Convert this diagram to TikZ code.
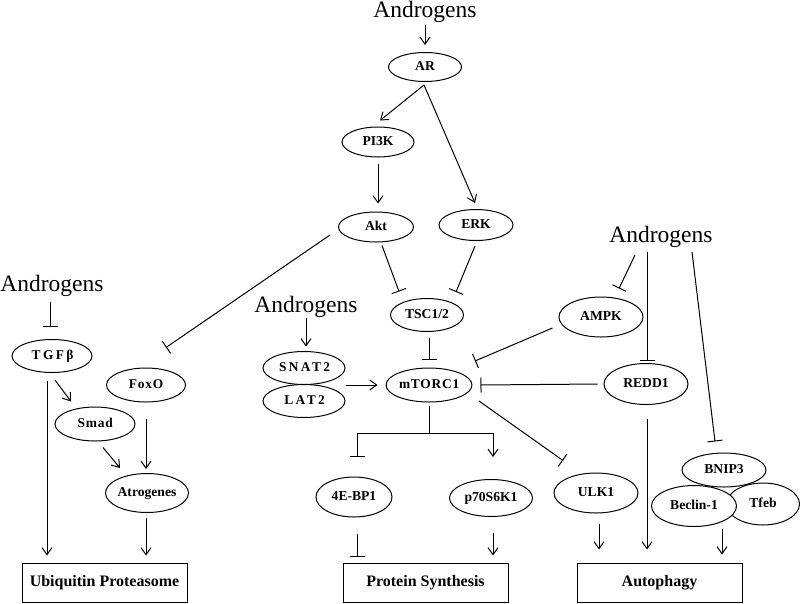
\documentclass[tikz,border=0pt]{standalone}
\usepackage{fontspec}
\setmainfont{Liberation Serif}
\newfontfamily\spA[LetterSpace=18]{Liberation Serif}
\newfontfamily\spB[LetterSpace=6]{Liberation Serif}
\usetikzlibrary{arrows.meta,shapes.geometric,calc}
\tikzset{
  ell/.style={ellipse, draw, line width=1pt, fill=white, inner sep=0pt,
    text height=9.5pt, text depth=2.5pt,
    font=\fontsize{13.6}{15}\selectfont\bfseries},
  ellA/.style={ell, font=\spA\fontsize{13.4}{15}\selectfont\bfseries},
  ellB/.style={ell, font=\spB\fontsize{13.4}{15}\selectfont\bfseries},
  andro/.style={font=\fontsize{23.5}{26}\selectfont, inner sep=0pt, anchor=base},
  outbox/.style={draw, line width=1pt, minimum width=165pt, minimum height=39pt,
    inner sep=0pt, font=\fontsize{16}{18}\selectfont\bfseries},
  link/.style={line width=1pt},
  act/.style={link, -{Straight Barb[length=7pt,width=10pt]}},
  inh/.style={link, -{Bar[width=15pt]}},
}
\begin{document}
\begin{tikzpicture}[x=1pt,y=-1pt]
\useasboundingbox (0,0) rectangle (800,603);
% text nodes
\node[andro] (A1) at (425,17) {Androgens};
\node[andro] (A2) at (306,312) {Androgens};
\node[andro] (A3) at (661,242) {Androgens};
\node[andro] (A4) at (52,291) {Androgens};
% ellipses
\node[ell, minimum width=73pt, minimum height=29pt] (AR) at (425,67) {AR};
\node[ell, minimum width=72pt, minimum height=30pt] (PI3K) at (378,142) {PI3K};
\node[ell, minimum width=75pt, minimum height=30pt] (Akt) at (376,227) {Akt};
\node[ell, minimum width=74pt, minimum height=31pt] (ERK) at (476,225) {ERK};
\node[ell, minimum width=73pt, minimum height=33pt] (TSC) at (427,315) {TSC1/2};
\node[ellB, minimum width=82pt, minimum height=34pt] (mTORC) at (429,385) {\hspace*{0.4pt}mTORC1};
\node[ellA, minimum width=82pt, minimum height=33pt] (SNAT) at (304,368) {\hspace*{1.2pt}SNAT2};
\node[ellA, minimum width=82pt, minimum height=33pt] (LAT) at (304,401) {\hspace*{1.2pt}LAT2};
\node[ell, minimum width=84pt, minimum height=40pt] (AMPK) at (601,317) {AMPK};
\node[ell, minimum width=84pt, minimum height=41pt] (REDD) at (646,384) {REDD1};
\node[ellA, minimum width=80pt, minimum height=33pt] (TGF) at (52,356) {\hspace*{1.2pt}TGFβ};
\node[ellB, minimum width=80pt, minimum height=34pt] (Smad) at (95,424) {\hspace*{0.4pt}Smad};
\node[ellB, minimum width=79pt, minimum height=34pt] (FoxO) at (146,385) {\hspace*{0.4pt}FoxO};
\node[ell, minimum width=83pt, minimum height=39pt] (Atro) at (147,493) {Atrogenes};
\node[ell, minimum width=76pt, minimum height=40pt] (EBP) at (354,497) {4E-BP1};
\node[ell, minimum width=83pt, minimum height=37pt] (p70) at (491,498) {p70S6K1};
\node[ell, minimum width=84pt, minimum height=40pt] (ULK) at (596,493) {ULK1};
\node[ell, minimum width=84pt, minimum height=34pt] (BNIP) at (724,470) {BNIP3};
\node[ell, minimum width=73pt, minimum height=42pt] (Tfeb) at (763,504) {Tfeb};
\node[ell, minimum width=85pt, minimum height=41pt] (Becl) at (694,506) {Beclin-1};
% boxes
\node[outbox] (Ubi) at (104.5,582.5) {Ubiquitin Proteasome};
\node[outbox] (PS) at (425.5,582.5) {Protein Synthesis};
\node[outbox] (Auto) at (659.5,582.5) {Autophagy};
% connectors
\draw[act] ($(A1.base)+(0,8)$) -- ($(AR.north)+(0,-7)$);
\draw[act] ($(AR.south)+(-1,3)$) -- ($(PI3K.north)+(2,-6)$);
\draw[act] ($(AR.south)+(-1,3)$) -- ($(ERK.north)+(-1,-6)$);
\draw[act] ($(PI3K.south)+(0,6)$) -- ($(Akt.north)+(2,-8)$);
\draw[inh] ($(Akt.south)+(6,3)$) -- ($(TSC.north)+(-28,-6.5)$);
\draw[inh] ($(ERK.south)+(-1,5)$) -- ($(TSC.north)+(29,-6)$);
\draw[inh] ($(Akt.west)+(-8,8)$) -- ($(FoxO.north)+(20,-20)$);
\draw[inh] ($(TSC.south)+(2,5.5)$) -- ($(mTORC.north)+(0,-8)$);
\draw[act] ($(A2.base)+(0,6)$) -- ($(SNAT.north)+(2,-4.5)$);
\draw[act] (SNAT.south -| SNAT.east) -- ($(mTORC.west)+(-8,0)$);
\draw[inh] ($(AMPK.west)+(-6,11)$) -- ($(mTORC.center)+(46,-24)$);
\draw[inh] ($(REDD.west)+(-6,0)$) -- ($(mTORC.east)+(8,0)$);
\draw[inh] ($(A3.base)+(-26,13)$) -- ($(AMPK.north)+(18,-8)$);
\draw[inh] ($(A3.base)+(-14,10)$) -- ($(REDD.north)+(1,-2)$);
\draw[inh] ($(A3.base)+(31,10)$) -- ($(BNIP.north)+(-9,-11)$);
\coordinate (br) at ($(mTORC.south)+(0,31)$);
\draw[link] ($(mTORC.south)+(0,3)$) -- (br);
\draw[inh] (br) -| ($(EBP.north)+(3,-20)$);
\draw[act] (br) -| ($(p70.north)+(2,-22)$);
\draw[inh] ($(mTORC.center)+(50,16)$) -- ($(ULK.north)+(-33,-12)$);
\draw[act] ($(TGF.south)+(3,7)$) -- ($(Smad.north)+(-24,-5)$);
\draw[act] ($(TGF.south)+(-5,8)$) -- ($(Ubi.north)+(-57.5,-7)$);
\draw[act] ($(FoxO.south)+(0,16)$) -- ($(Atro.north)+(-1,-4)$);
\draw[act] ($(Smad.south)+(8,6)$) -- ($(Atro.north)+(-27,-5)$);
\draw[act] ($(Atro.south)+(-1,5)$) -- ($(Ubi.north)+(41.5,-7)$);
\draw[inh] ($(A4.base)+(-2,11)$) -- ($(TGF.north)+(-2,-12)$);
\draw[inh] ($(EBP.south)+(3,16)$) -- ($(PS.north)+(-68.5,-6)$);
\draw[act] ($(p70.south)+(2,16)$) -- ($(PS.north)+(67.5,-7)$);
\draw[act] ($(ULK.south)+(3,10)$) -- ($(Auto.north)+(-60.5,-13)$);
\draw[act] ($(REDD.south)+(1,13.5)$) -- ($(Auto.north)+(-12.5,-13)$);
\draw[act] ($(BNIP.south)+(-2,41)$) -- ($(Auto.north)+(62.5,-8)$);
\end{tikzpicture}
\end{document}
